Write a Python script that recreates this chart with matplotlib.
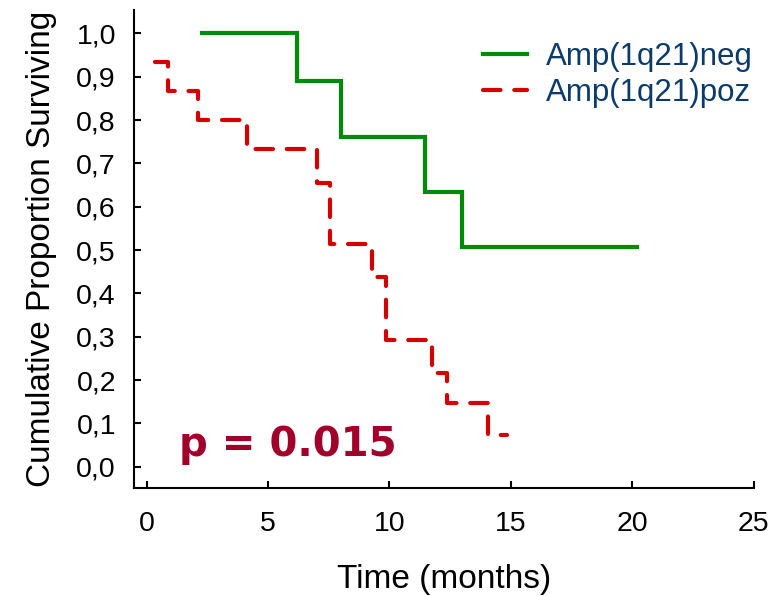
import matplotlib
matplotlib.use("Agg")
import matplotlib.pyplot as plt

plt.rcParams['font.family'] = ['Liberation Sans', 'DejaVu Sans']

# Data
neg_times = [2.27, 6.18, 7.99, 11.48, 13.0, 20.2]
neg_surv = [1.0, 0.889, 0.762, 0.635, 0.508, 0.508]

poz_times = [0.34, 0.89, 2.10, 4.15, 7.0, 7.55, 9.27, 9.85, 11.74, 12.36, 14.07, 14.83]
poz_surv = [0.933, 0.867, 0.800, 0.733, 0.655, 0.513, 0.437, 0.292, 0.217, 0.146, 0.073, 0.073]

x_ticks = [0, 5, 10, 15, 20, 25]
y_ticks = [0.0, 0.1, 0.2, 0.3, 0.4, 0.5, 0.6, 0.7, 0.8, 0.9, 1.0]
y_ticklabels = ['0,0', '0,1', '0,2', '0,3', '0,4', '0,5', '0,6', '0,7', '0,8', '0,9', '1,0']

labels = ['Amp(1q21)neg', 'Amp(1q21)poz']
p_text = 'p = 0.015'

fig = plt.figure(figsize=(7.74, 5.96), dpi=100)
ax = fig.add_axes([134/774, (596-488.3)/596, (753.5-134)/774, (488.3-10)/596])

green = '#008a0a'
red = '#d40000'

ax.step(neg_times, neg_surv, where='post', color=green, lw=3.0, label=labels[0],
        solid_joinstyle='miter')
ax.step(poz_times, poz_surv, where='post', color=red, lw=3.0, label=labels[1],
        linestyle=(0, (4.2, 3.3)), dash_capstyle='round')

ax.set_xlim(-0.52, 25)
ax.set_ylim(-0.0498, 1.054)

ax.set_xticks(x_ticks)
ax.set_yticks(y_ticks)
ax.set_yticklabels(y_ticklabels)

for s in ['top', 'right']:
    ax.spines[s].set_visible(False)
for s in ['left', 'bottom']:
    ax.spines[s].set_linewidth(1.5)

ax.tick_params(axis='both', direction='in', length=5, width=1.5, labelsize=20.5)
ax.tick_params(axis='y', pad=13)
ax.tick_params(axis='x', pad=16)

ax.set_xlabel('Time (months)', fontsize=24, labelpad=20)
ax.set_ylabel('Cumulative Proportion Surviving', fontsize=24, labelpad=14)

leg = ax.legend(loc='upper left', bbox_to_anchor=(483/774, 1 - 42/596),
                bbox_transform=fig.transFigure, frameon=False, fontsize=22.5,
                handlelength=1.4, handletextpad=0.6, labelspacing=0.2,
                borderpad=0, borderaxespad=0)
for t in leg.get_texts():
    t.set_color('#0b3b6b')

ax.text(5.8, 0.05, p_text, fontsize=29, fontweight='bold', color='#a0002a',
        ha='center', va='center', family='DejaVu Sans')

fig.savefig('out.png', dpi=100)
